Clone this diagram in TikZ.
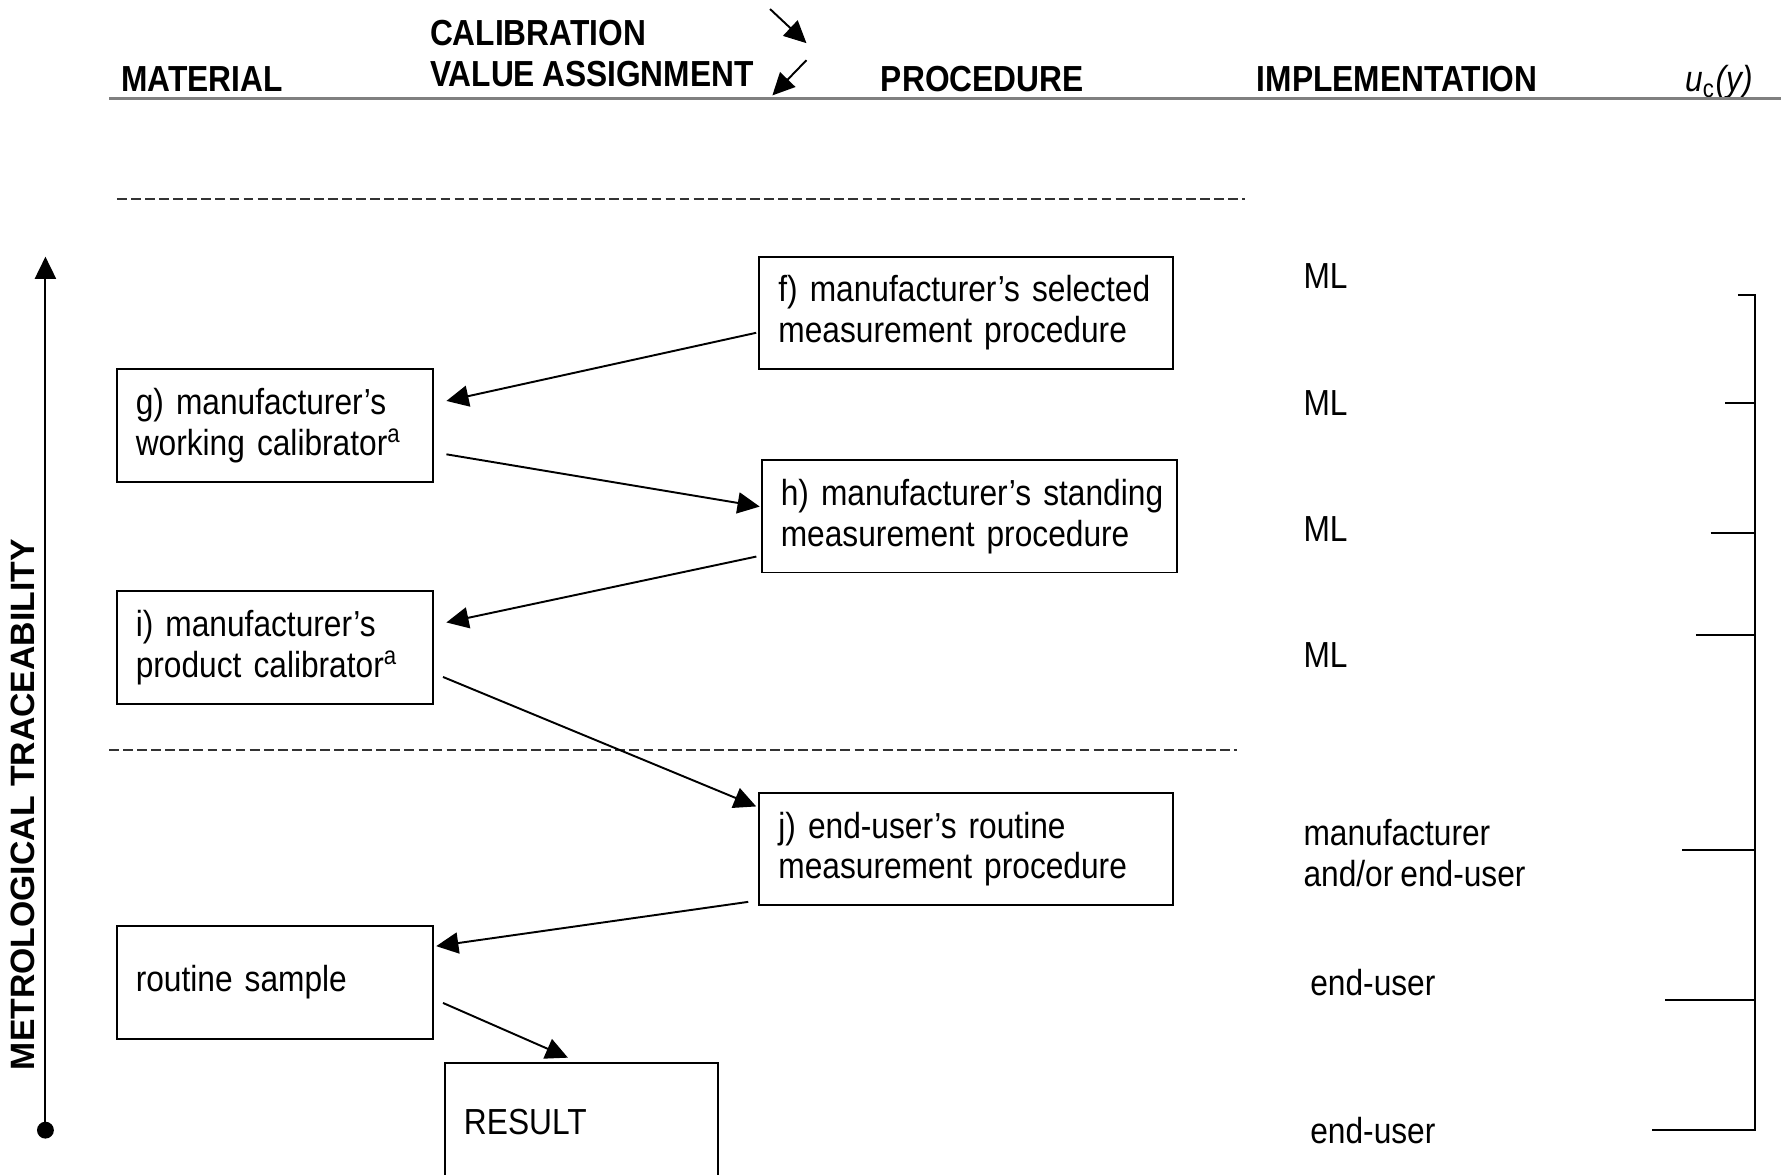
\documentclass[tikz,border=0pt]{standalone}
\usepackage{fontspec}
\setmainfont{Liberation Sans}[FakeStretch=0.875, WordSpace=0.8]
\newfontfamily\vertfont{Liberation Sans}
\usetikzlibrary{arrows.meta}

\newcommand{\bodyfont}{\fontsize{10.3}{11.6}\selectfont\hyphenpenalty=10000\exhyphenpenalty=10000\hbadness=10000\hfuzz=20pt\relax}
\newcommand{\headfont}{\fontsize{10.3}{11.6}\selectfont\bfseries}

\tikzset{
  box/.style={draw, line width=0.55pt, align=left, inner xsep=0.19cm,
    minimum height=1.125cm, font=\bodyfont},
  widebox/.style={box, text width=3.75cm},
  narrowbox/.style={box, text width=2.78cm},
  arr/.style={line width=0.55pt, -{Triangle[length=6.3pt,width=6pt]}},
  head/.style={font=\headfont, anchor=base west, inner sep=0pt},
  impl/.style={font=\bodyfont, anchor=west, inner sep=0pt, align=left},
  divider/.style={dash pattern=on 2.8pt off 1.2pt, line width=0.55pt, black!80},
}

\begin{document}
\begin{tikzpicture}[x=0.01136cm, y=-0.01136cm]
        \useasboundingbox (0,0) rectangle (1568,1034);
        % column heads
        \node [head] (mat) at (106,81) {MATERIAL};
        \node [head] (cal) at (378,40) {CALIBRATION};
        \node [head] (val) at (378,76) {VALUE ASSIGNMENT};
        \node [head] (proc) at (775,81) {PROCEDURE};
        \node [head] (impl) at (1106,81) {IMPLEMENTATION};
        \node [font=\bodyfont, anchor=base west, inner sep=0pt] (uc) at (1483,81)
          {\itshape u\textsubscript{\upshape c}(y)};
        \draw [gray, line width=0.85pt] (96,87) -- (1568,87);
        \coordinate (a1s) at (678,8);
        \coordinate (a1e) at (710,38);
        \coordinate (a2s) at (710,53);
        \coordinate (a2e) at (680,84);
        \draw [arr] (a1s) -- (a1e);
        \draw [arr] (a2s) -- (a2e);
        % dashed dividers
        \draw [divider] (103,175) -- (1096,175);
        \draw [divider] (96,660) -- (1089,660);
        % traceability axis
        \coordinate (tbot) at (40,995);
        \coordinate (ttop) at (40,226);
        \draw [arr] (tbot) -- (ttop);
        \fill (tbot) circle (2.4pt);
        \node [rotate=90, font={\vertfont\fontsize{9.6}{11}\selectfont\bfseries}] (trace)
          at (20,708.5) {METROLOGICAL TRACEABILITY};
        % boxes
        \node [widebox] (f) at (850.5,275.5) {\mbox{f) manufacturer’s selected}\\measurement procedure};
        \node [narrowbox] (g) at (242,374.5) {g) manufacturer’s\\working calibrator\textsuperscript{a}};
        \node [box, text width=3.77cm] (h) at (853.5,454.5) {\mbox{h) manufacturer’s standing}\\measurement procedure};
        \node [narrowbox] (i) at (242,570) {i) manufacturer’s\\product calibrator\textsuperscript{a}};
        \node [widebox] (j) at (850.5,747.5) {j) end-user’s routine\\measurement procedure};
        \node [narrowbox] (rs) at (242,865) {routine sample};
        \node [box, text width=2.35cm, minimum height=1.18cm] (res) at (512,988) {RESULT};
        % chain
        \draw [arr] ([shift={(-2,17.5)}]f.west) -- ([shift={(11,-21.5)}]g.east);
        \draw [arr] ([shift={(11,25.5)}]g.east) -- ([shift={(-1,-8.5)}]h.west);
        \draw [arr] ([shift={(-4,35.5)}]h.west) -- ([shift={(11,-22)}]i.east);
        \draw [arr] ([shift={(8,26)}]i.east) -- ([shift={(-2,-37.5)}]j.west);
        \draw [arr] ([shift={(-9,46.5)}]j.west) -- ([shift={(2,-32)}]rs.east);
        \draw [arr] ([shift={(8,18)}]rs.east) -- ([shift={(-12,-4)}]res.north);
        % implementation
        \node [impl] (ml1) at (1147,243) {ML};
        \node [impl] (ml2) at (1147,355) {ML};
        \node [impl] (ml3) at (1147,466) {ML};
        \node [impl] (ml4) at (1147,577) {ML};
        \node [impl] (mfr) at (1147,751) {manufacturer\\and/or end-user};
        \node [impl] (eu1) at (1153,865) {end-user};
        \node [impl] (eu2) at (1153,995) {end-user};
        % u_c bracket
        \draw [line width=0.55pt] (1530,260) -- (1545,260) -- (1545,995) -- (1454,995);
        \foreach \yy/\xx in {355/1519, 469/1506, 559/1493, 748/1481, 880/1466}
          \draw [line width=0.55pt] (\xx,\yy) -- (1545,\yy);
      \end{tikzpicture}
\end{document}
